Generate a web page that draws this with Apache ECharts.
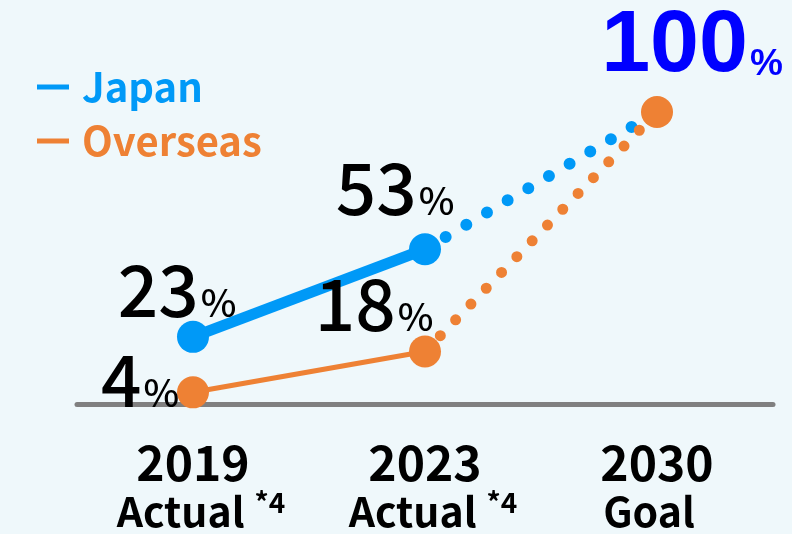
<!DOCTYPE html>
<html>
<head>
<meta charset="utf-8">
<script src="https://cdn.jsdelivr.net/npm/echarts@6/dist/echarts.min.js"></script>
<style>
html,body{margin:0;padding:0;background:#eff8fb;}
#c{width:792px;height:534px;}
</style>
</head>
<body>
<div id="c"></div>
<script>
const categories = ['2019', '2023', '2030'];
const subLabels = ['Actual', 'Actual', 'Goal'];
const notes = ['*4', '*4', ''];
const japan = [23, 53, 100];
const overseas = [4, 18, 100];
const seriesNames = ['Japan', 'Overseas'];

const BLUE = '#0099f7';
const ORANGE = '#ee8134';
const FONT = '"Noto Sans CJK JP", "Noto Sans", sans-serif';

function pctRich(color, numSize, pSize, fam) {
  return {
    n: { fontSize: numSize, fontFamily: fam || FONT, fontWeight: 500, color: color, lineHeight: numSize },
    p: { fontSize: pSize, fontFamily: fam || FONT, fontWeight: 500, color: color, lineHeight: numSize, verticalAlign: 'bottom', padding: [0, 0, 4, 2] }
  };
}

function lbl(offset, rich) {
  return {
    show: true, position: 'inside', offset: offset, align: 'center', verticalAlign: 'middle',
    formatter: p => '{n|' + p.value + '}{p|%}', rich: rich
  };
}

const richBlack = pctRich('#000', 71, 38);
const richBlue = {
  n: { fontSize: 88, fontFamily: '"Liberation Sans", Arial, sans-serif', fontWeight: 'bold', color: '#0000ff', lineHeight: 92 },
  p: { fontSize: 37, fontFamily: '"Liberation Sans", Arial, sans-serif', fontWeight: 'bold', color: '#0000ff', lineHeight: 92, verticalAlign: 'bottom', padding: [0, 0, 10, 2] }
};

const jpSolid = [
  { value: japan[0], label: lbl([-16, -47], richBlack) },
  { value: japan[1], label: lbl([-30, -61], richBlack) },
  null
];
const osSolid = [
  { value: overseas[0], label: lbl([-53, -12], richBlack) },
  { value: overseas[1], label: lbl([-51, -47], richBlack) },
  null
];
const jpDot = [null, japan[1], japan[2]];
const osDot = [null, overseas[1], { value: overseas[2], symbol: 'circle', symbolSize: 32, label: lbl([35, -65], richBlue) }];

const chart = echarts.init(document.getElementById('c'));
chart.setOption({
  backgroundColor: '#eff8fb',
  animation: false,
  grid: { left: 77, right: 19, top: 112, bottom: 130, outerBoundsMode: 'none', containLabel: false },
  legend: {
    orient: 'vertical', left: 32, top: 62, itemGap: 14,
    icon: 'rect', itemWidth: 32, itemHeight: 5,
    selectedMode: false,
    data: [
      { name: seriesNames[0], textStyle: { color: BLUE } },
      { name: seriesNames[1], textStyle: { color: ORANGE } }
    ],
    textStyle: { fontSize: 40, fontWeight: 'bold', fontFamily: FONT, padding: [0, 0, 0, 8] }
  },
  xAxis: {
    type: 'category', data: categories,
    axisLine: { lineStyle: { color: '#808080', width: 5 } },
    axisTick: { show: false },
    axisLabel: {
      margin: 34, lineHeight: 50,
      formatter: (v, i) => '{y|' + v + '}\n' + (notes[i] ? '{a|' + subLabels[i] + '}{s|' + notes[i] + '}' : '{g|' + subLabels[i] + '}'),
      rich: {
        y: { fontSize: 48, fontWeight: 'bold', fontFamily: FONT, color: '#000', lineHeight: 50 },
        a: { fontSize: 41, fontWeight: 'bold', fontFamily: FONT, color: '#000', lineHeight: 46, padding: [0, 0, 0, 16] },
        g: { fontSize: 41, fontWeight: 'bold', fontFamily: FONT, color: '#000', lineHeight: 46, padding: [0, 16, 0, 0] },
        s: { fontSize: 28, fontWeight: 'bold', fontFamily: FONT, color: '#000', lineHeight: 46, verticalAlign: 'top', padding: [0, 0, 18, 10] }
      }
    }
  },
  yAxis: { type: 'value', min: 0, max: 100, show: false, splitLine: { show: false } },
  series: [
    { name: seriesNames[0], type: 'line', data: jpDot, symbol: 'none', z: 2,
      lineStyle: { color: BLUE, width: 12, type: [0, 24], cap: 'round' }, itemStyle: { color: BLUE } },
    { name: seriesNames[1], type: 'line', data: osDot, symbol: 'none', z: 3,
      lineStyle: { color: ORANGE, width: 11, type: [0, 22], cap: 'round' }, itemStyle: { color: ORANGE } },
    { name: seriesNames[0], type: 'line', data: jpSolid, symbol: 'circle', symbolSize: 32, z: 4,
      lineStyle: { color: BLUE, width: 11 }, itemStyle: { color: BLUE } },
    { name: seriesNames[1], type: 'line', data: osSolid, symbol: 'circle', symbolSize: 32, z: 5,
      lineStyle: { color: ORANGE, width: 5 }, itemStyle: { color: ORANGE } }
  ]
});
</script>
</body>
</html>
